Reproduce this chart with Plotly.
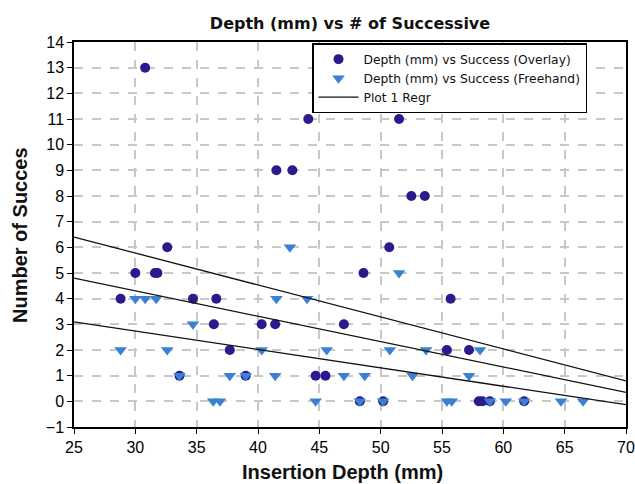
import plotly.graph_objects as go

# Overlay series
overlay_x = [30.8, 41.5, 42.8, 44.1, 51.5, 52.5, 53.6, 32.6, 50.7, 30.0, 31.6, 31.8, 48.6,
             28.8, 34.7, 36.6, 55.7, 36.4, 40.3, 41.4, 47.0, 37.7, 55.4, 57.2,
             33.6, 39.0, 44.7, 45.5, 48.3, 50.2, 58.0, 58.3, 58.9, 61.7]
overlay_y = [13, 9, 9, 11, 11, 8, 8, 6, 6, 5, 5, 5, 5,
             4, 4, 4, 4, 3, 3, 3, 3, 2, 2, 2,
             1, 1, 1, 1, 0, 0, 0, 0, 0, 0]

# Freehand series
free_x = [42.6, 51.5, 30.0, 30.8, 31.7, 41.5, 44.0, 34.7,
          28.8, 32.6, 40.3, 45.6, 50.75, 53.7, 58.1,
          33.6, 37.7, 39.0, 41.4, 47.0, 48.7, 52.6, 57.2,
          36.35, 36.9, 44.7, 48.3, 50.2, 55.4, 55.8, 58.9, 60.2, 61.7, 64.7, 66.5]
free_y = [6, 5, 4, 4, 4, 4, 4, 3,
          2, 2, 2, 2, 2, 2, 2,
          1, 1, 1, 1, 1, 1, 1, 1,
          0, 0, 0, 0, 0, 0, 0, 0, 0, 0, 0, 0]

# Regression line and bands
regr_x = [25, 70]
regr_y = [4.8, 0.35]
upper_y = [6.4, 0.8]
lower_y = [3.1, -0.13]

x_ticks = [25, 30, 35, 40, 45, 50, 55, 60, 65, 70]
y_ticks = list(range(-1, 15))

navy = "#2B1A8C"
blue = "#3B80D2"
narrow = "Liberation Sans Narrow, Arial Narrow, Liberation Sans, Arial, sans-serif"
dejavu = "DejaVu Sans, Verdana, sans-serif"

fig = go.Figure()
fig.add_trace(go.Scatter(x=overlay_x, y=overlay_y, mode="markers",
                         name="Depth (mm) vs Success (Overlay)",
                         marker=dict(symbol="circle", size=10, color=navy)))
fig.add_trace(go.Scatter(x=free_x, y=free_y, mode="markers",
                         name="Depth (mm) vs Success (Freehand)",
                         marker=dict(symbol="triangle-down", size=11, color=blue)))
fig.add_trace(go.Scatter(x=regr_x, y=regr_y, mode="lines", name="Plot 1 Regr",
                         line=dict(color="#111111", width=1.3)))
fig.add_trace(go.Scatter(x=regr_x, y=upper_y, mode="lines", showlegend=False,
                         line=dict(color="#111111", width=1.3)))
fig.add_trace(go.Scatter(x=regr_x, y=lower_y, mode="lines", showlegend=False,
                         line=dict(color="#111111", width=1.3)))

axis_common = dict(showline=True, linecolor="black", linewidth=1.5, mirror=True,
                   ticks="outside", tickcolor="black", ticklen=5,
                   showgrid=True, gridcolor="#C8C8C8", griddash="dash", gridwidth=1.5,
                   zeroline=False, automargin=False,
                   tickfont=dict(family=narrow, size=16, color="black"))

fig.update_layout(
    width=635, height=484,
    margin=dict(l=74, r=9, t=42, b=57),
    paper_bgcolor="white", plot_bgcolor="white",
    title=dict(text="<b>Depth (mm) vs # of Successive</b>", x=350 / 635,
               xanchor="center", xref="container", y=1 - 23 / 484, yanchor="middle",
               font=dict(family=dejavu, size=16, color="#111111")),
    xaxis=dict(range=[25, 70], tickvals=x_ticks, **axis_common),
    yaxis=dict(range=[-1, 14], tickvals=y_ticks, **axis_common),
    legend=dict(x=(312 - 74) / 552, y=0.997, xanchor="left", yanchor="top",
                bgcolor="white", bordercolor="black", borderwidth=1.5,
                font=dict(family=dejavu, size=12.3, color="#111111"),
                tracegroupgap=0, itemwidth=40),
    showlegend=True,
    annotations=[
        dict(text="<b>Insertion Depth (mm)</b>", xref="paper", yref="paper",
             x=(342 - 74) / 552, y=-45 / 385, xanchor="center", yanchor="middle", showarrow=False,
             font=dict(family=narrow, size=20, color="#111111")),
        dict(text="<b>Number of Succes</b>", xref="paper", yref="paper",
             x=(20 - 74) / 552, y=(427 - 235) / 385, xanchor="center", yanchor="middle",
             textangle=-90, showarrow=False,
             font=dict(family=narrow, size=20, color="#111111")),
    ],
)

fig.write_html("out.html")
